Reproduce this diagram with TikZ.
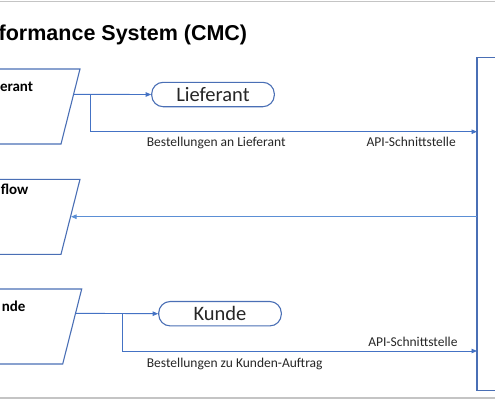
\documentclass[tikz,border=0pt]{standalone}
\usepackage{fontspec}
\setmainfont{Carlito}
\newfontfamily\arialfont{Liberation Sans}
\usetikzlibrary{arrows.meta}
\definecolor{shapeblue}{HTML}{4A6FB5}
\definecolor{lineblue}{HTML}{4472C4}
\definecolor{lightblue}{HTML}{5B8FD5}
\definecolor{framegray}{HTML}{C4C4C4}
\definecolor{txt}{HTML}{262626}
\tikzset{
  shapeline/.style={draw=shapeblue, line width=1.1pt},
  conn/.style={draw=lineblue, line width=0.9pt, -{Triangle[length=5.5pt,width=4.5pt]}},
  pill/.style={shapeline, fill=white, rounded corners=11.5pt, minimum width=122.6pt, minimum height=24.4pt, inner sep=0pt, font=\fontsize{20.5}{22}\selectfont, text=txt},
  lbl/.style={font=\fontsize{13.5}{15}\selectfont, text=txt, inner sep=0pt},
  boldlbl/.style={font=\bfseries\fontsize{15}{17}\selectfont, text=black, inner sep=0pt, anchor=base east},
}
\begin{document}
\begin{tikzpicture}[x=1pt,y=-1pt]
\useasboundingbox (0,0) rectangle (495,400);
\clip (0,0) rectangle (495,400);
% frame lines
\draw[framegray, line width=1.5pt] (0,1.5) -- (495,1.5);
\draw[framegray, line width=1.5pt] (0,398) -- (495,398);
% title
\node[anchor=base west, inner sep=0pt, font=\arialfont\bfseries\fontsize{21.5}{24}\selectfont] (title) at (-1.5,40.5) {formance System (CMC)};
% parallelograms
\draw[shapeline] (-10,69) -- (80,69) -- (61,144) -- (-10,144);
\draw[shapeline] (-10,179.3) -- (80,179.3) -- (61,254.3) -- (-10,254.3);
\draw[shapeline] (-10,289) -- (81.7,289) -- (62.7,364) -- (-10,364);
\node[boldlbl] (p1t) at (33.3,91.7) {erant};
\node[boldlbl] (p2t) at (28.5,194) {flow};
\node[boldlbl] (p3t) at (25.7,311.7) {nde};
\coordinate (p1e) at (73.6,94.3);
\coordinate (p2e) at (71,216.7);
\coordinate (p3e) at (75.7,313.3);
% big box
\draw[shapeline] (530,57.7) -- (477,57.7) -- (477,390.7) -- (530,390.7);
\coordinate (b1) at (477,131.7);
\coordinate (b2) at (477,216.7);
\coordinate (b3) at (477,351);
% pills
\node[pill] (lief) at (213,94.5) {Lieferant};
\node[pill] (kunde) at (220,313.7) {Kunde};
% connectors
\draw[conn] (p1e) -- (lief.west);
\coordinate (j1) at (90.7,94.3);
\draw[conn] (j1) |- (b1);
\draw[draw=lightblue, line width=0.9pt, -{Triangle[length=5.5pt,width=4.5pt]}] (b2) -- (p2e);
\draw[conn] (p3e) -- (kunde.west);
\coordinate (j3) at (122.7,313.3);
\draw[conn] (j3) |- (b3);
% labels
\node[lbl, anchor=west] (l1) at (146.7,142.5) {Bestellungen an Lieferant};
\node[lbl, anchor=east] (a1) at (456,142) {API-Schnittstelle};
\node[lbl, anchor=east] (a3) at (457.7,342.3) {API-Schnittstelle};
\node[lbl, anchor=west] (l3) at (146.7,364) {Bestellungen zu Kunden-Auftrag};
\end{tikzpicture}
\end{document}
